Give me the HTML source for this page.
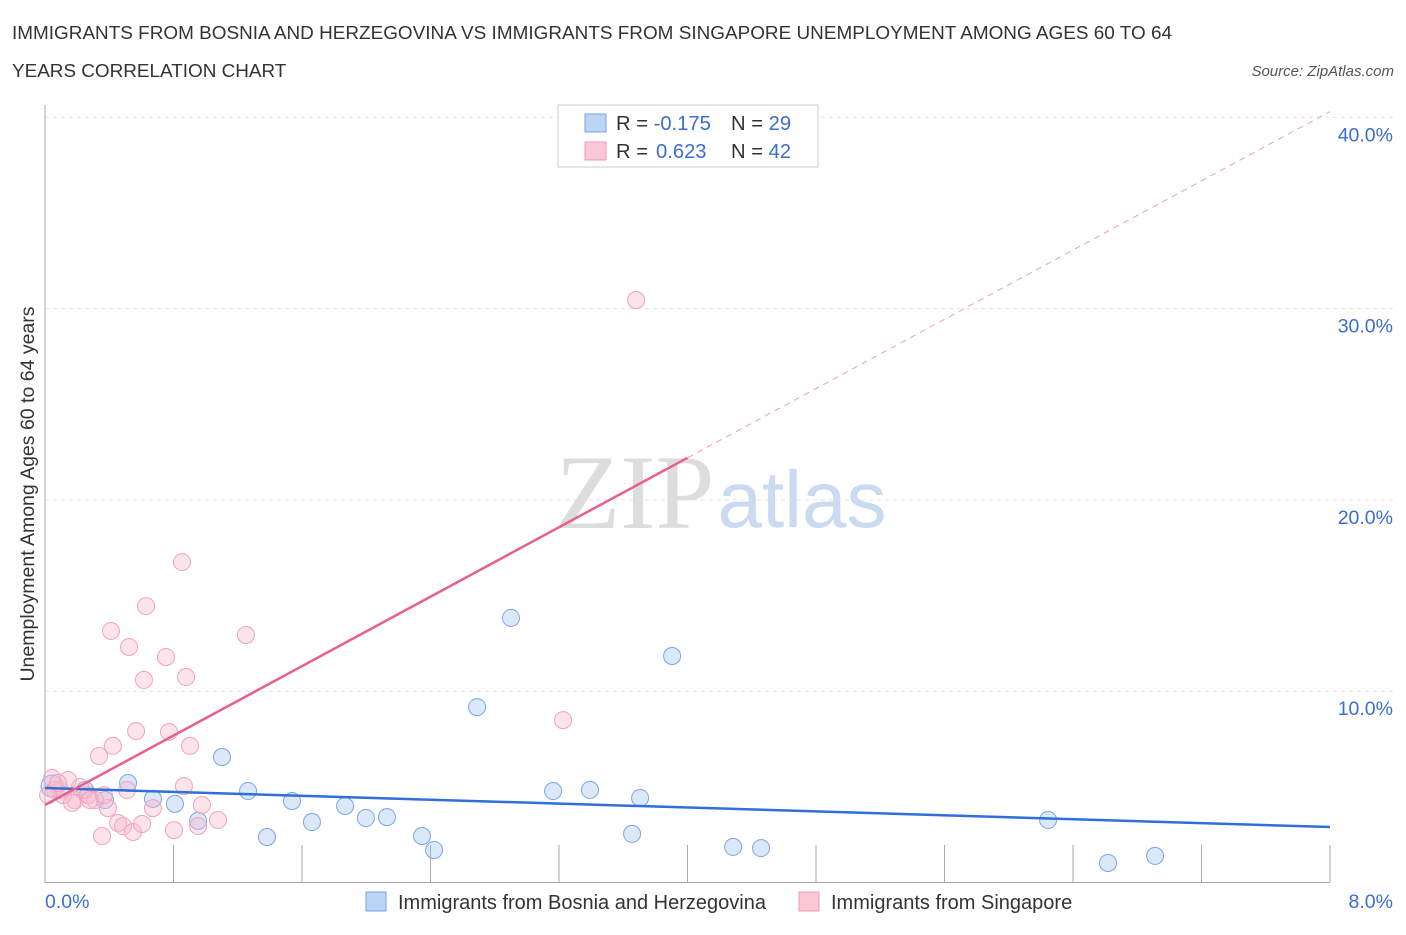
<!DOCTYPE html>
<html><head><meta charset="utf-8"><style>
body{margin:0;background:#fff;font-family:"Liberation Sans",sans-serif;}
svg text{font-family:"Liberation Sans",sans-serif;}
</style></head><body>
<svg id="chart" width="1406" height="930">
<text x="12" y="39" font-size="18.9" fill="#333" textLength="1160">IMMIGRANTS FROM BOSNIA AND HERZEGOVINA VS IMMIGRANTS FROM SINGAPORE UNEMPLOYMENT AMONG AGES 60 TO 64</text>
<text x="12" y="77" font-size="18.9" fill="#333">YEARS CORRELATION CHART</text>
<text x="1394" y="76" font-size="15" fill="#555" text-anchor="end" font-style="italic">Source: ZipAtlas.com</text>
<text x="34" y="494" font-size="19.5" fill="#333" text-anchor="middle" transform="rotate(-90 34 494)">Unemployment Among Ages 60 to 64 years</text>
<g>
<text x="635" y="528" font-size="106" fill="#ddd" text-anchor="middle" style="font-family:'Liberation Serif',serif">ZIP</text>
<text x="802" y="527" font-size="80" fill="#c9daf1" text-anchor="middle">atlas</text>
</g>
<g id="grid"></g>
<g id="axes"></g>
<g id="marks"></g>
<g>
<rect x="558" y="105" width="260" height="62" fill="#fff" stroke="#ccc"/>
<rect x="585" y="114" width="21" height="18" fill="#bcd4f5" stroke="#7aa6e6"/>
<rect x="585" y="142" width="21" height="18" fill="#fcc8d7" stroke="#ee9ab2"/>
<text x="616" y="130" font-size="20.2" fill="#333">R = <tspan fill="#3a6fd0">-0.175</tspan><tspan x="731">N = </tspan><tspan fill="#3a6fd0">29</tspan></text>
<text x="616" y="158" font-size="20.2" fill="#333">R = <tspan x="656" fill="#3a6fd0">0.623</tspan><tspan x="731">N = </tspan><tspan fill="#3a6fd0">42</tspan></text>
</g>
<g>
<rect x="366" y="892" width="20" height="19" fill="#bcd4f5" stroke="#7aa6e6"/>
<text x="398" y="909" font-size="20" fill="#333">Immigrants from Bosnia and Herzegovina</text>
<rect x="799" y="892" width="20" height="19" fill="#fcc8d7" stroke="#ee9ab2"/>
<text x="831" y="909" font-size="20" fill="#333">Immigrants from Singapore</text>
</g>
</svg>
<script>
const xTickLabels=["0.0%","8.0%"];
const yTicks=[10,20,30,40];
const blueX=[0.044,0.517,0.672,0.809,0.953,1.102,1.264,1.382,1.538,1.662,1.868,1.998,2.129,2.347,2.422,2.690,2.901,3.163,3.393,3.655,3.705,3.904,4.284,4.458,6.245,6.618,6.911,0.374,0.249];
const blueY=[5.04,5.20,4.37,4.11,3.22,6.56,4.78,2.38,4.26,3.16,4.00,3.37,3.42,2.43,1.70,9.17,13.83,4.78,4.84,2.54,4.42,11.84,1.86,1.80,3.27,1.02,1.39,4.31,4.84];
const pinkX=[0.044,0.093,0.143,0.187,0.218,0.268,0.311,0.336,0.355,0.392,0.411,0.423,0.455,0.486,0.511,0.523,0.548,0.567,0.604,0.616,0.629,0.672,0.753,0.772,0.803,0.853,0.865,0.878,0.903,0.953,0.977,1.077,1.251,3.225,3.680,0.062,0.112,0.168,0.280,0.367,0.019,0.081];
const pinkY=[5.46,4.84,5.36,4.31,4.99,4.57,4.31,6.61,2.43,3.89,13.15,7.14,3.11,2.95,4.84,12.31,2.64,7.92,3.06,10.59,14.45,3.89,11.79,7.87,2.74,16.75,5.04,10.74,7.14,2.95,4.05,3.27,12.94,8.49,30.45,4.84,4.57,4.16,4.31,4.57,4.57,5.20];
const blueTrend=[[0,4.94],[8,2.90]];
const pinkTrend=[[0,4.05],[4.0,22.2],[8,40.3]];

const NS="http://www.w3.org/2000/svg";
const X0=45,X1=1330,Y0=882.5,PXPER=19.13;
const sx=v=>X0+(v/8)*(X1-X0);
const sy=v=>Y0-v*PXPER;
function mk(tag,attrs,parent){const e=document.createElementNS(NS,tag);for(const k in attrs)e.setAttribute(k,attrs[k]);parent.appendChild(e);return e;}
const grid=document.getElementById('grid'),axes=document.getElementById('axes'),marks=document.getElementById('marks');
yTicks.forEach(t=>{
  const l=mk('line',{x1:X0,x2:1394,y1:sy(t),y2:sy(t),stroke:'#e2e2e2','stroke-dasharray':'4,4'},grid);
  
  
  const tx=mk('text',{x:1393,y:sy(t)+24,'font-size':19.5,fill:'#3a6fd0','text-anchor':'end'},grid);
  tx.textContent=t.toFixed(1)+'%';
  
  
});
const ya=mk('line',{x1:X0,x2:X0,y1:105,y2:Y0,stroke:'#aaa'},axes);


const xa=mk('line',{x1:X0,x2:X1,y1:Y0,y2:Y0,stroke:'#aaa'},axes);


for(let i=1;i<=10;i++){
  const t=mk('line',{x1:sx(i*0.8),x2:sx(i*0.8),y1:845,y2:Y0,stroke:'#aaa'},axes);
  
  
}
const xl0=mk('text',{x:45,y:908,'font-size':19.5,fill:'#3a6fd0'},axes);xl0.textContent=xTickLabels[0];


const xl1=mk('text',{x:1393,y:908,'font-size':19.5,fill:'#3a6fd0','text-anchor':'end'},axes);xl1.textContent=xTickLabels[1];


blueX.forEach((v,i)=>{
  const c=mk('circle',{cx:sx(v),cy:sy(blueY[i]),r:i===0?11:8.5,fill:'rgba(165,198,240,0.4)',stroke:'#7aa6e6','stroke-width':1},marks);
  
  
});
pinkX.forEach((v,i)=>{
  const c=mk('circle',{cx:sx(v),cy:sy(pinkY[i]),r:8.5,fill:'rgba(249,185,204,0.4)',stroke:'#f0a3bb','stroke-width':1},marks);
  
  
});
const bl=mk('line',{x1:sx(blueTrend[0][0]),y1:sy(blueTrend[0][1]),x2:sx(blueTrend[1][0]),y2:sy(blueTrend[1][1]),stroke:'#2f6fd6','stroke-width':2.5},marks);


const pl=mk('line',{x1:sx(pinkTrend[0][0]),y1:sy(pinkTrend[0][1]),x2:sx(pinkTrend[1][0]),y2:sy(pinkTrend[1][1]),stroke:'#e8608c','stroke-width':2.5},marks);


const pd=mk('line',{x1:sx(pinkTrend[1][0]),y1:sy(pinkTrend[1][1]),x2:sx(pinkTrend[2][0]),y2:sy(pinkTrend[2][1]),stroke:'#e8a0b6','stroke-width':1,'stroke-dasharray':'6,5'},marks);


</script>
</body></html>
